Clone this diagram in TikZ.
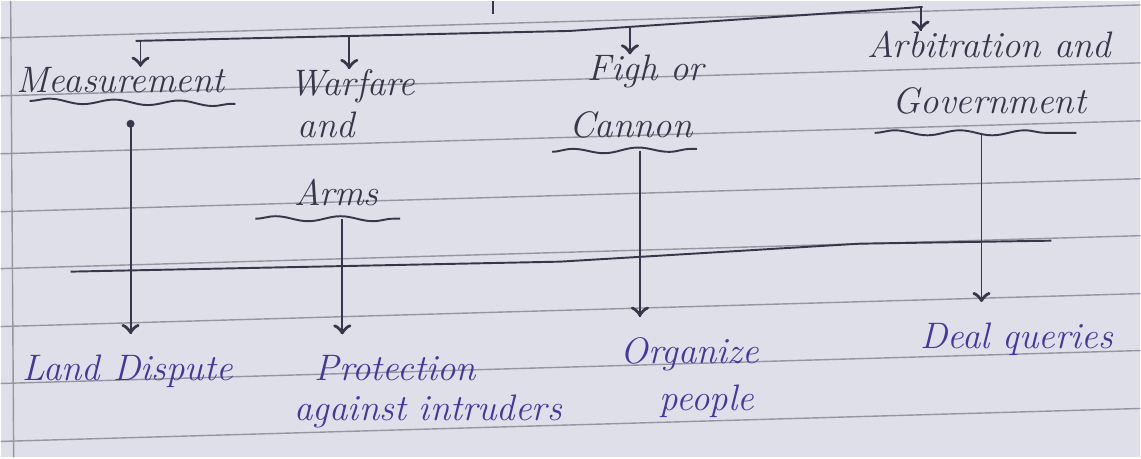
\documentclass[tikz,border=0pt]{standalone}
\usetikzlibrary{calc,
                 decorations.pathmorphing,
                 decorations.markings}
\tikzset{->/.style = {decoration={markings, mark=at position 1 with {\arrow[scale=1.8]{to}}}, postaction={decorate}}}
\definecolor{paper}{RGB}{223,223,233}
\definecolor{ruling}{RGB}{150,150,162}
\definecolor{pencil}{RGB}{55,55,75}
\definecolor{ink}{RGB}{68,56,158}
\tikzset{hand/.style = {font=\fontsize{21}{25}\selectfont\itshape, text=pencil, inner sep=0pt, anchor=base}}
\tikzset{answer/.style = {hand, text=ink, inner ysep=4mm}}
\tikzset{wavy/.style = {decorate, decoration={snake, amplitude=0.5mm, segment length=13mm}}}

\begin{document}
\begin{tikzpicture}[x=0.2mm, y=-0.2mm, line width=1.1pt, color=pencil]
% paper
\fill[paper] (0,0) rectangle (1141,457);
\draw[ruling, line width=0.8pt] (0,37) -- (1141,4);
\draw[ruling, line width=0.8pt] (0,95) -- (1141,62);
\draw[ruling, line width=0.8pt] (0,153) -- (1141,120);
\draw[ruling, line width=0.8pt] (0,211) -- (1141,178);
\draw[ruling, line width=0.8pt] (0,268) -- (1141,235);
\draw[ruling, line width=0.8pt] (0,326) -- (1141,293);
\draw[ruling, line width=0.8pt] (0,383) -- (1141,350);
\draw[ruling, line width=0.8pt] (0,441) -- (1141,408);
\draw[ruling, line width=0.8pt] (10,0) -- (13,457);
	\draw (493,0) -- (493,13);
% top row
\node[hand] (measure) at (120,92) {Measurement};
\node[hand] (warfare) at (352,95) {Warfare};
\node[hand] (and) at (326,137) {and};
\node[hand] (arms) at (336,205) {Arms};
\node[hand] (figh) at (646,80) {Figh or};
\node[hand] (cannon) at (631,137) {Cannon};
\node[hand] (arbit) at (990,57) {Arbitration and};
\node[hand] (govt) at (990,113) {Government};
\draw [wavy] (29,100) -- (235,103);
\draw [wavy] (255,218) -- (400,218);
\draw [wavy] (552,151) -- (697,148);
\draw [wavy] (875,132) -- (1077,132);
% bottom row
\node[answer] (land) at (127,380) {Land Dispute};
\node[answer] (protect) at (395,380) {Protection};
\node[answer] (intrude) at (428,420) {against intruders};
\node[answer] (organize) at (690,363) {Organize};
\node[answer] (people) at (707,410) {people};
\node[answer] (deal) at (1017,348) {Deal queries};
% bars
\coordinate (tapMeas) at (140,39);
\coordinate (tapWar) at (349,35);
\coordinate (tapFigh) at (630,26);
\coordinate (tapArb) at (921,6);
\draw (135,40) -- (570,30) -- (923,6);
\draw [->] (tapMeas) -- (tapMeas |- measure.north);
\draw [->] (tapWar) -- (tapWar |- warfare.north);
\draw [->] (tapFigh) -- (tapFigh |- figh.north);
\draw [->] (tapArb) -- (tapArb |- arbit.north);
\draw (70,271) -- (560,261) -- (860,243) -- (1052,240);
\coordinate (fromMeas) at (130,123);
\coordinate (fromArms) at (342,218);
\coordinate (fromCannon) at (640,150);
\coordinate (fromGovt) at (982,132);
\fill (fromMeas) circle (4);
\draw [->] (fromMeas) -- (fromMeas |- land.north);
\draw [->] (fromArms) -- (fromArms |- protect.north);
\draw [->] (fromCannon) -- (fromCannon |- organize.north);
\draw [->] (fromGovt) -- (fromGovt |- deal.north);
\end{tikzpicture}
\end{document}
